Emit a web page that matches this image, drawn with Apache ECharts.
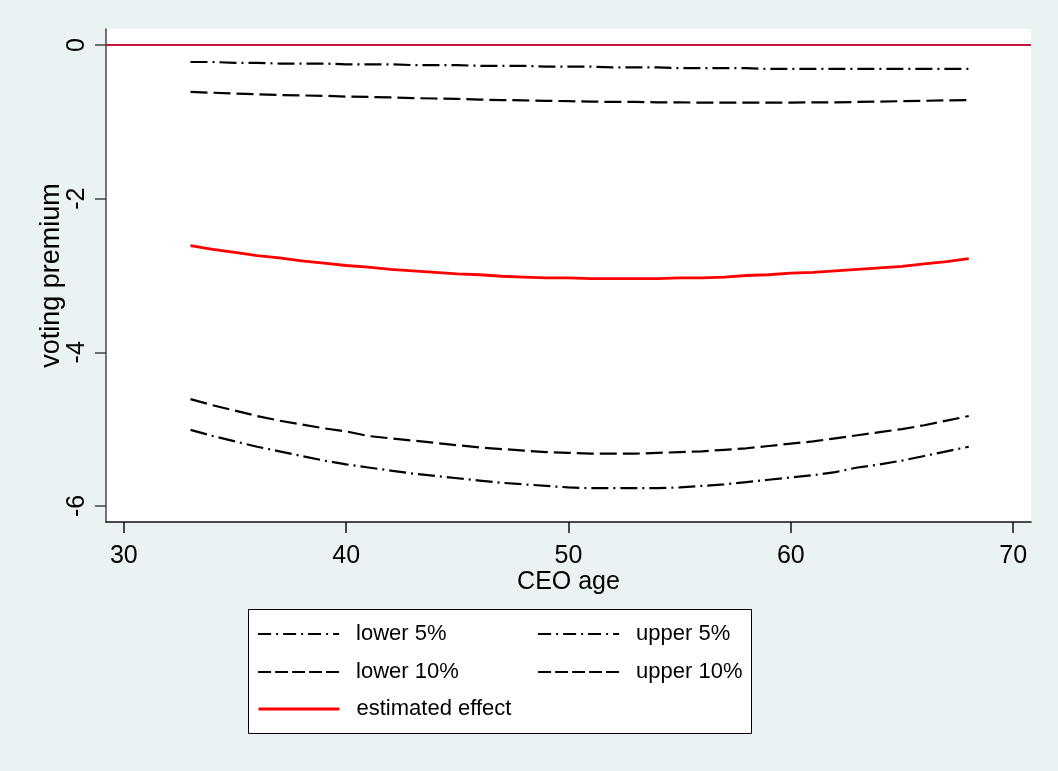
<!DOCTYPE html>
<html>
<head>
<meta charset="utf-8">
<script src="https://cdn.jsdelivr.net/npm/echarts@6/dist/echarts.min.js"></script>
<style>
html,body{margin:0;padding:0;background:#eaf2f3;}
#chart{width:1058px;height:771px;}
</style>
</head>
<body>
<div id="chart"></div>
<script>
var ages = [33,34,35,36,37,38,39,40,41,42,43,44,45,46,47,48,49,50,51,52,53,54,55,56,57,58,59,60,61,62,63,64,65,66,67,68];
var lower5 = [-5.01,-5.09,-5.16,-5.23,-5.29,-5.35,-5.41,-5.46,-5.50,-5.54,-5.58,-5.61,-5.64,-5.67,-5.70,-5.72,-5.74,-5.76,-5.77,-5.77,-5.77,-5.77,-5.76,-5.74,-5.72,-5.69,-5.66,-5.63,-5.60,-5.56,-5.50,-5.46,-5.41,-5.35,-5.29,-5.23];
var upper5 = [-0.22,-0.22,-0.23,-0.23,-0.24,-0.24,-0.24,-0.25,-0.25,-0.25,-0.26,-0.26,-0.26,-0.27,-0.27,-0.27,-0.28,-0.28,-0.28,-0.29,-0.29,-0.29,-0.30,-0.30,-0.30,-0.30,-0.31,-0.31,-0.31,-0.31,-0.31,-0.31,-0.31,-0.31,-0.31,-0.31];
var lower10 = [-4.61,-4.69,-4.76,-4.83,-4.89,-4.94,-4.99,-5.03,-5.09,-5.12,-5.15,-5.18,-5.21,-5.24,-5.26,-5.28,-5.30,-5.31,-5.32,-5.32,-5.32,-5.31,-5.30,-5.29,-5.27,-5.25,-5.22,-5.19,-5.16,-5.12,-5.08,-5.04,-5.00,-4.95,-4.89,-4.83];
var upper10 = [-0.61,-0.62,-0.63,-0.64,-0.65,-0.655,-0.66,-0.67,-0.675,-0.68,-0.69,-0.695,-0.70,-0.71,-0.715,-0.72,-0.725,-0.73,-0.735,-0.74,-0.74,-0.745,-0.745,-0.75,-0.75,-0.75,-0.75,-0.75,-0.745,-0.745,-0.74,-0.735,-0.73,-0.725,-0.72,-0.715];
var estimated = [-2.61,-2.66,-2.70,-2.74,-2.77,-2.81,-2.84,-2.87,-2.89,-2.92,-2.94,-2.96,-2.98,-2.99,-3.01,-3.02,-3.03,-3.03,-3.04,-3.04,-3.04,-3.04,-3.03,-3.03,-3.02,-3.00,-2.99,-2.97,-2.96,-2.94,-2.92,-2.90,-2.88,-2.85,-2.82,-2.78];
var xTicks = [30,40,50,60,70];
var yTicks = [-6,-4,-2,0];
var seriesNames = ['lower 5%','upper 5%','lower 10%','upper 10%','estimated effect'];

function pairs(vals){ return ages.map(function(a,i){ return [a, vals[i]]; }); }

var FONT = '"Liberation Sans", Arial, Helvetica, sans-serif';
var dashDot = [17,5,2,5];
var dashed = [17,6];
var legendDashDot = [13,5,2,5];
var legendDashed = [13,4];

var chart = echarts.init(document.getElementById('chart'));

function legendItem(name, left, centerY, color, width, dash){
  return {
    data:[name], left:left, top:centerY-12, orient:'horizontal',
    padding:0, itemWidth:81, itemHeight:14, selectedMode:false,
    itemStyle:{opacity:0},
    lineStyle:{color:color, width:width, type:dash},
    textStyle:{fontFamily:FONT, fontSize:22, color:'#000', padding:[0,0,0,12]}
  };
}

chart.setOption({
  backgroundColor:'#eaf2f3',
  animation:false,
  grid:{left:106, right:27, top:29, bottom:249, show:true, backgroundColor:'#ffffff', borderWidth:0, containLabel:false},
  xAxis:{
    type:'value', min:29.2, max:70.8,
    name:'CEO age', nameLocation:'middle', nameGap:48, nameMoveOverlap:false,
    nameTextStyle:{fontFamily:FONT, fontSize:25, color:'#000'},
    axisLine:{show:true, onZero:false, lineStyle:{color:'#111', width:1.5}},
    axisTick:{show:true, length:11, customValues:xTicks, lineStyle:{color:'#111', width:1.5}},
    axisLabel:{customValues:xTicks, fontFamily:FONT, fontSize:25, color:'#000', margin:22},
    splitLine:{show:false}
  },
  yAxis:{
    type:'value', min:-6.21, max:0.21,
    name:'voting premium', nameLocation:'middle', nameGap:41, nameRotate:90, nameMoveOverlap:false,
    nameTextStyle:{fontFamily:FONT, fontSize:27, color:'#000'},
    axisLine:{show:true, onZero:false, lineStyle:{color:'#444', width:1.5}},
    axisTick:{show:true, length:11, customValues:yTicks, lineStyle:{color:'#444', width:1.5}},
    axisLabel:{customValues:yTicks, rotate:90, fontFamily:FONT, fontSize:25, color:'#000', margin:16},
    splitLine:{show:false}
  },
  legend:[
    legendItem(seriesNames[0], 257, 635, '#000', 2.2, legendDashDot),
    legendItem(seriesNames[1], 537, 635, '#000', 2.2, legendDashDot),
    legendItem(seriesNames[2], 257, 673, '#000', 2.2, legendDashed),
    legendItem(seriesNames[3], 537, 673, '#000', 2.2, legendDashed),
    legendItem(seriesNames[4], 257, 710, '#ff0000', 3, 'solid')
  ],
  graphic:[{
    type:'rect', z:-1, silent:true,
    shape:{x:248.5, y:609.5, width:503, height:124},
    style:{fill:'#ffffff', stroke:'#000', lineWidth:1}
  }],
  series:[
    {name:seriesNames[0], type:'line', data:pairs(lower5), symbol:'none', silent:true,
     lineStyle:{color:'#000', width:2.2, type:dashDot}, itemStyle:{color:'#000'}},
    {name:seriesNames[1], type:'line', data:pairs(upper5), symbol:'none', silent:true,
     lineStyle:{color:'#000', width:2.2, type:dashDot}, itemStyle:{color:'#000'}},
    {name:seriesNames[2], type:'line', data:pairs(lower10), symbol:'none', silent:true,
     lineStyle:{color:'#000', width:2.2, type:dashed}, itemStyle:{color:'#000'}},
    {name:seriesNames[3], type:'line', data:pairs(upper10), symbol:'none', silent:true,
     lineStyle:{color:'#000', width:2.2, type:dashed}, itemStyle:{color:'#000'}},
    {name:seriesNames[4], type:'line', data:pairs(estimated), symbol:'none', silent:true,
     lineStyle:{color:'#ff0000', width:2.8, type:'solid'}, itemStyle:{color:'#ff0000'},
     markLine:{silent:true, symbol:['none','none'], label:{show:false},
       lineStyle:{color:'#c8143c', width:2, type:'solid'},
       data:[{yAxis:0}]}}
  ]
});
</script>
</body>
</html>
